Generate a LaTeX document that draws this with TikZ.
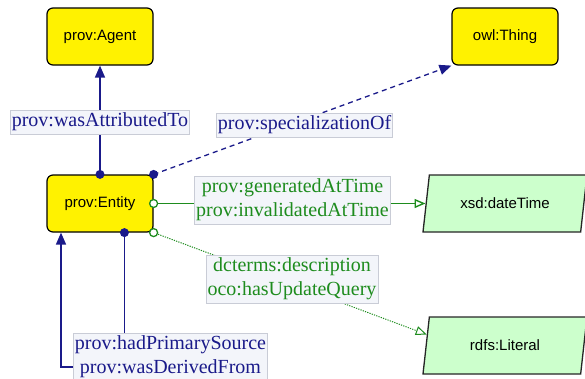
\documentclass[tikz,border=0pt]{standalone}
\usepackage{fontspec}
\setmainfont{Liberation Serif}
\newfontfamily\nodefont{Liberation Sans}
\usetikzlibrary{arrows.meta,shapes.geometric}
\definecolor{navyc}{HTML}{1A1A8A}
\definecolor{greenc}{HTML}{1E8C1E}
\definecolor{lblfill}{HTML}{F3F5FA}
\definecolor{lblline}{HTML}{C9CCD6}
\definecolor{litfill}{HTML}{CCFFCC}
\begin{document}
\begin{tikzpicture}[x=1pt,y=-1pt,
  cls/.style={draw=black,line width=1.2pt,fill=yellow,rounded corners=6pt,
    minimum width=106pt,minimum height=57pt,inner sep=0pt,
    font=\nodefont\fontsize{15}{18}\selectfont},
  litbox/.style={trapezium,trapezium left angle=60,trapezium right angle=120,
    trapezium stretches body,draw=black!85,line width=1.3pt,fill=litfill,
    minimum width=164pt,minimum height=57pt,inner sep=0pt,
    font=\nodefont\fontsize{15}{18}\selectfont},
  lbl/.style={draw=lblline,line width=0.6pt,fill=lblfill,inner xsep=1.5pt,
    inner ysep=3pt,align=center,
    font=\fontsize{20}{24}\selectfont},
  navyline/.style={draw=navyc,line width=1.5pt},
  greenline/.style={draw=greenc,line width=1.4pt},
  navytip/.style={-{Triangle[length=12pt,width=10pt]}},
  greentip/.style={-{Triangle[open,length=11pt,width=9pt]}},
  navydot/.style={fill=navyc},
  greendot/.style={draw=greenc,line width=1.3pt,fill=white}
]
\useasboundingbox (0,0) rectangle (585,378);

% class nodes
\node[cls] (agent) at (100,36.5) {prov:Agent};
\node[cls] (thing) at (505,36.5) {owl:Thing};
\node[cls] (entity) at (100,203.5) {prov:Entity};
\node[litbox] (dt) at (505,203.5) {xsd:dateTime};
\node[litbox] (lit) at (505,345.5) {rdfs:Literal};

\coordinate (c1) at (61,367);

% connectors
\draw[navyline,navytip] (entity.north) -- (agent.south);
\draw[navyline,navytip,line width=1.3pt,dash pattern=on 5pt off 4pt] (entity.north east) -- (thing.south west);
\draw[greenline,greentip] (entity.east) -- (dt.west);
\draw[greenline,greentip,line width=1pt,dash pattern=on 1.2pt off 1.2pt] (entity.south east) -- (lit.172);
\draw[navyline,navytip] (entity.-50) |- (c1) -- (c1 |- entity.south);

% end markers
\fill[navydot] (entity.north) circle (4.5);
\fill[navydot] (entity.north east) circle (4.5);
\fill[navydot] (entity.-50) circle (4.5);
\filldraw[greendot] (entity.east) circle (4);
\filldraw[greendot] (entity.south east) circle (4);

% labels
\node[lbl,text=navyc] (l1) at (100,122) {prov:wasAttributedTo};
\node[lbl,text=navyc] (l2) at (304.5,125) {prov:specializationOf};
\node[lbl,text=greenc] (l3) at (292.5,200) {prov:generatedAtTime\\prov:invalidatedAtTime};
\node[lbl,text=greenc] (l4) at (292,279) {dcterms:description\\oco:hasUpdateQuery};
\node[lbl,text=navyc] (l5) at (170.5,357) {prov:hadPrimarySource\\prov:wasDerivedFrom};
\end{tikzpicture}
\end{document}
